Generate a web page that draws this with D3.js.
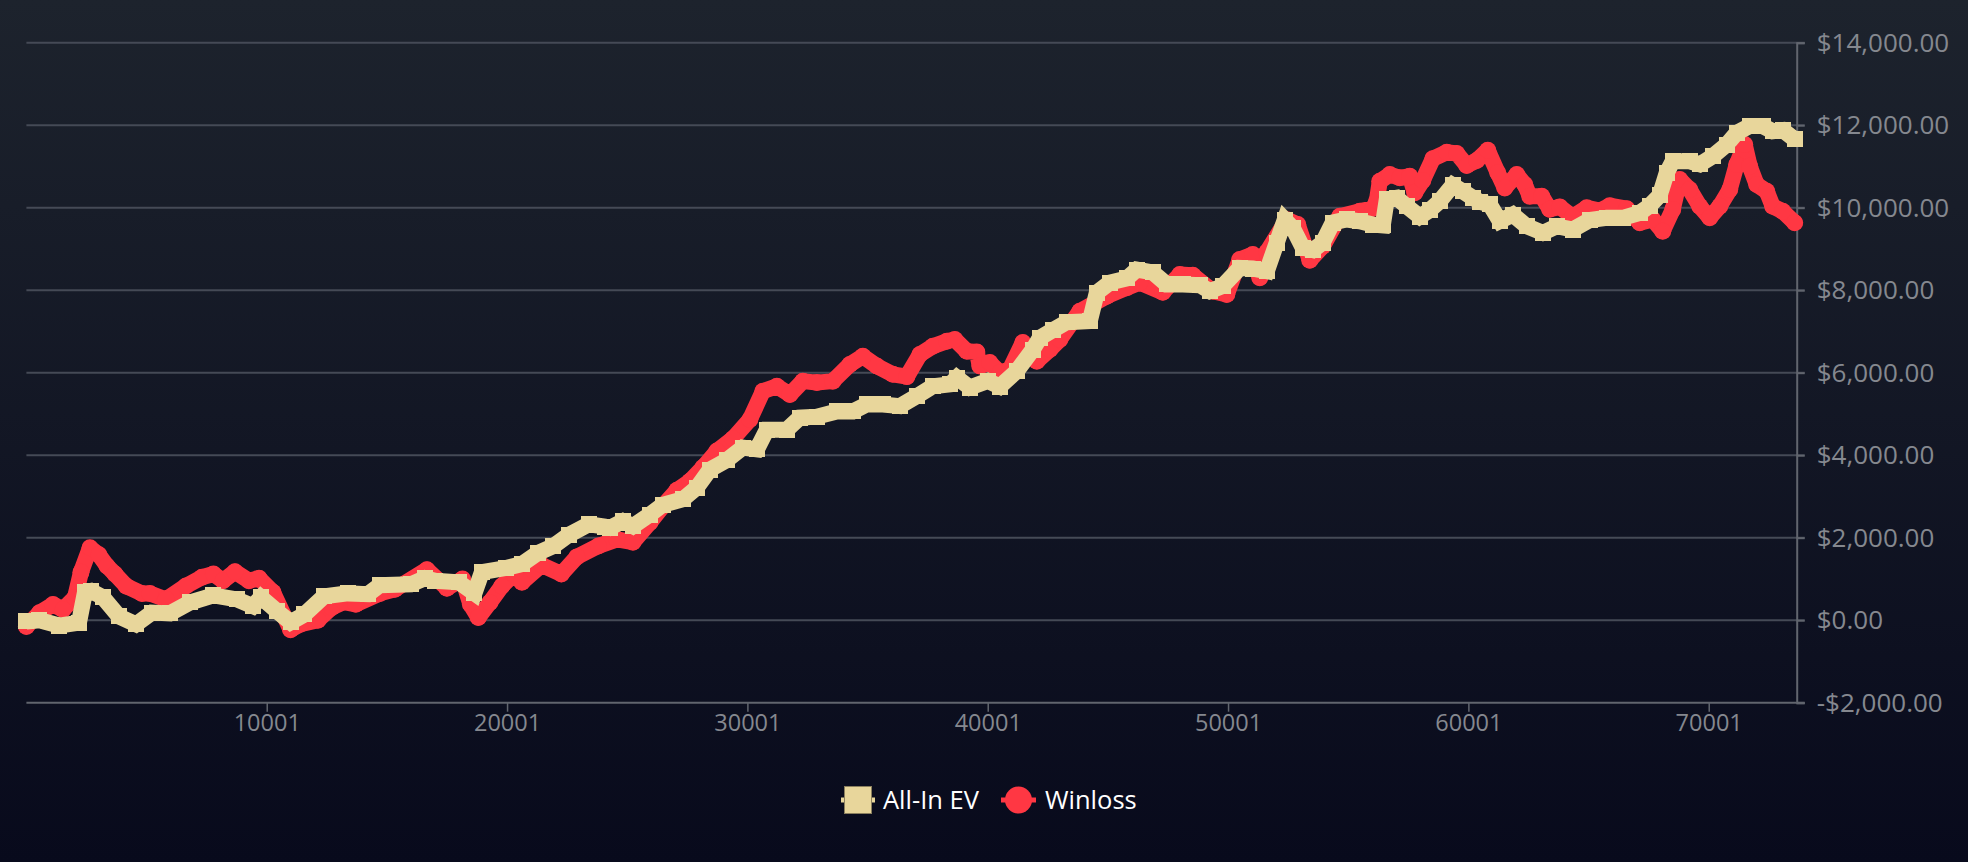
<!DOCTYPE html>
<html>
<head>
<meta charset="utf-8">
<script src="https://cdn.jsdelivr.net/npm/d3@7"></script>
<style>
  html, body { margin: 0; padding: 0; background: #0a0c1c; }
  svg { display: block; }
</style>
</head>
<body>
<svg id="chart" width="1968" height="862"></svg>
<script>
// ---------------- data ----------------
const seriesNames = ["All-In EV", "Winloss"];

const evHands = [1,545,1356,2188,2438,2688,3187,3853,4560,5226,5975,6807,7784,8762,9428,9760,10426,10992,11570,12381,13380,14212,14711,16001,16584,17000,17998,18643,18954,19953,20619,21284,21933,22574,23406,24072,24279,24820,25236,25944,26484,27316,27899,28440,29147,29813,30395,30811,31643,32184,32891,33723,34389,34971,35637,36344,37051,37717,38424,38715,39256,40004,40504,41211,41877,42168,42709,43292,44249,44540,45081,45788,46204,46870,47452,48118,48825,49241,49782,50489,51030,51612,52028,52361,52694,53110,53526,53942,54358,54941,55482,56023,56439,56605,57021,57437,57978,58394,58810,59351,59767,60183,60475,60891,61307,61848,62430,63096,63678,64344,65051,65758,66424,67131,67547,67963,68254,68504,69211,69627,70168,70750,71166,71707,72248,72664,73080,73579];
const evValues = [-30,0,-130,-60,680,710,555,90,-100,185,165,430,600,505,340,555,220,-50,140,580,650,630,850,870,1020,955,920,650,1165,1265,1360,1630,1800,2070,2325,2270,2240,2400,2280,2560,2800,2930,3215,3650,3880,4185,4140,4620,4620,4910,4935,5060,5060,5230,5230,5190,5430,5670,5715,5880,5640,5800,5665,6040,6560,6845,7030,7225,7250,7940,8185,8285,8500,8430,8140,8140,8120,7975,8100,8540,8525,8460,9155,9710,9510,9030,8970,9155,9640,9715,9670,9590,9570,10200,10240,10035,9785,9940,10160,10545,10400,10240,10145,10080,9675,9835,9550,9390,9550,9470,9700,9755,9755,9875,10050,10300,10845,11125,11125,11050,11250,11530,11815,11980,11980,11855,11880,11655];

const winHands = [1,545,1107,1523,2022,2272,2646,3020,3353,3686,4164,4809,5142,5808,6640,7306,7784,8179,8679,9261,9677,10260,10992,11403,12131,12714,13213,13712,14711,15335,16667,17499,18147,18476,18804,19287,19786,20286,20619,21438,22262,22906,23800,24571,25236,25944,26484,27067,27607,28149,28731,29397,30104,30645,31227,31768,32308,32891,33557,34264,34805,35388,36053,36636,37177,37717,38299,38632,39131,39547,39672,40088,40504,40920,41461,42043,42584,43001,43833,44956,45788,46329,47286,47993,48534,49366,49948,50489,51030,51321,51612,52444,52902,53401,53942,54650,55482,56023,56189,56314,56730,57146,57562,57770,58103,58519,59101,59517,59933,60349,60807,61223,61515,62014,62347,62555,63054,63387,63803,64344,64926,65467,65883,66590,67131,67672,68088,68504,68795,69211,69627,70043,70459,70875,71166,71499,71707,71998,72414,72664,73080,73579];
const winValues = [-150,180,380,260,550,1165,1755,1585,1315,1120,825,650,650,505,830,1040,1120,955,1175,955,1020,680,-230,-100,0,310,440,385,650,750,1225,775,1000,385,65,430,830,1120,920,1340,1120,1535,1800,1960,1890,2370,2765,3150,3370,3700,4100,4400,4865,5550,5670,5470,5795,5760,5795,6200,6400,6160,5960,5905,6440,6640,6765,6805,6520,6500,6160,6245,6000,6080,6730,6280,6560,6805,7490,7855,8060,8185,7950,8380,8365,7975,7895,8745,8865,8300,8920,9710,9590,8725,9065,9795,9915,9980,10160,10640,10805,10725,10765,10360,10660,11185,11345,11315,11025,11145,11395,10845,10480,10805,10560,10280,10280,9960,10020,9780,10000,9930,10050,9975,9635,9715,9430,9955,10685,10440,10035,9755,10035,10440,11050,11530,11005,10560,10400,10035,9915,9635];

const xTickValues = [10001,20001,30001,40001,50001,60001,70001];
const yTickValues = [-2000,0,2000,4000,6000,8000,10000,12000,14000];
const xDomain = [1, 73662];
const yDomain = [-2000, 14000];

// ---------------- drawing ----------------
const W = 1968, H = 862;
const svg = d3.select("#chart");
const font = "'Open Sans', 'Noto Sans', sans-serif";
const evColor = "#e8d69b", winColor = "#ff3743";

const defs = svg.append("defs");
const grad = defs.append("linearGradient").attr("id", "bg").attr("x1", 0).attr("y1", 0).attr("x2", 0).attr("y2", 1);
grad.append("stop").attr("offset", "0%").attr("stop-color", "#1d232d");
grad.append("stop").attr("offset", "100%").attr("stop-color", "#080a1c");
svg.append("rect").attr("width", W).attr("height", H).attr("fill", "url(#bg)");

const plot = { left: 26.4, right: 1796.7, top: 42.7, bottom: 702.7 };
const x = d3.scaleLinear().domain(xDomain).range([plot.left, plot.right]);
const y = d3.scaleLinear().domain(yDomain).range([plot.bottom, plot.top]);

// gridlines
svg.append("g").selectAll("line").data(yTickValues.filter(v => v !== yDomain[0])).join("line")
  .attr("x1", plot.left).attr("x2", plot.right + 8)
  .attr("y1", d => y(d)).attr("y2", d => y(d))
  .attr("stroke", "#454a56").attr("stroke-width", 2);

// y axis (right)
const fmtMoney = v => (v < 0 ? "-" : "") + "$" + d3.format(",.2f")(Math.abs(v));
const yAxis = svg.append("g").attr("transform", `translate(${plot.right},0)`)
  .call(d3.axisRight(y).tickValues(yTickValues).tickFormat(fmtMoney).tickSize(8).tickPadding(12));
yAxis.select(".domain").attr("stroke", "#61656e").attr("stroke-width", 2);
yAxis.selectAll(".tick line").attr("stroke", "#61656e").attr("stroke-width", 2);
yAxis.selectAll(".tick text").attr("fill", "#85888f").style("font-family", font).style("font-size", "26px");

// x axis
const xAxis = svg.append("g").attr("transform", `translate(0,${plot.bottom})`)
  .call(d3.axisBottom(x).tickValues(xTickValues).tickFormat(d3.format("d")).tickSize(9).tickPadding(3));
xAxis.select(".domain").attr("stroke", "#61656e").attr("stroke-width", 2).attr("d", `M${plot.left},0H${plot.right}`);
xAxis.selectAll(".tick line").attr("stroke", "#61656e").attr("stroke-width", 1.5);
xAxis.selectAll(".tick text").attr("fill", "#85888f").style("font-family", font).style("font-size", "23.5px");
svg.append("line").attr("x1", plot.right).attr("x2", plot.right + 8)
  .attr("y1", plot.bottom).attr("y2", plot.bottom).attr("stroke", "#61656e").attr("stroke-width", 2);

// series
const evData = evHands.map((h, i) => [h, evValues[i]]);
const winData = winHands.map((h, i) => [h, winValues[i]]);
const line = d3.line().x(d => x(d[0])).y(d => y(d[1])).curve(d3.curveLinear);

const winG = svg.append("g");
winG.append("path").datum(winData).attr("d", line)
  .attr("fill", "none").attr("stroke", winColor).attr("stroke-width", 16)
  .attr("stroke-linejoin", "round").attr("stroke-linecap", "round");
winG.selectAll("circle").data(winData).join("circle")
  .attr("cx", d => x(d[0])).attr("cy", d => y(d[1])).attr("r", 8.5).attr("fill", winColor);

const evG = svg.append("g");
evG.append("path").datum(evData).attr("d", line)
  .attr("fill", "none").attr("stroke", evColor).attr("stroke-width", 16)
  .attr("stroke-linejoin", "miter").attr("stroke-miterlimit", 2).attr("stroke-linecap", "butt");
evG.selectAll("rect").data(evData).join("rect")
  .attr("x", d => x(d[0]) - 8).attr("y", d => y(d[1]) - 8).attr("width", 16).attr("height", 16)
  .attr("fill", evColor).attr("shape-rendering", "crispEdges");

// legend
const legY = 800;
const leg = svg.append("g");
leg.append("line").attr("x1", 841).attr("x2", 875).attr("y1", legY).attr("y2", legY)
  .attr("stroke", evColor).attr("stroke-width", 5);
leg.append("rect").attr("x", 844.5).attr("y", legY - 13.5).attr("width", 27).attr("height", 27)
  .attr("fill", evColor).attr("stroke", "#8a7f5e").attr("stroke-width", 1);
leg.append("text").attr("x", 883).attr("y", legY).attr("dy", "0.35em")
  .attr("fill", "#ffffff").style("font-family", font).style("font-size", "25.5px").text(seriesNames[0]);
leg.append("line").attr("x1", 1001).attr("x2", 1036).attr("y1", legY).attr("y2", legY)
  .attr("stroke", winColor).attr("stroke-width", 5);
leg.append("circle").attr("cx", 1018.5).attr("cy", legY).attr("r", 13.5).attr("fill", winColor);
leg.append("text").attr("x", 1045).attr("y", legY).attr("dy", "0.35em")
  .attr("fill", "#ffffff").style("font-family", font).style("font-size", "25.5px").text(seriesNames[1]);
</script>
</body>
</html>
